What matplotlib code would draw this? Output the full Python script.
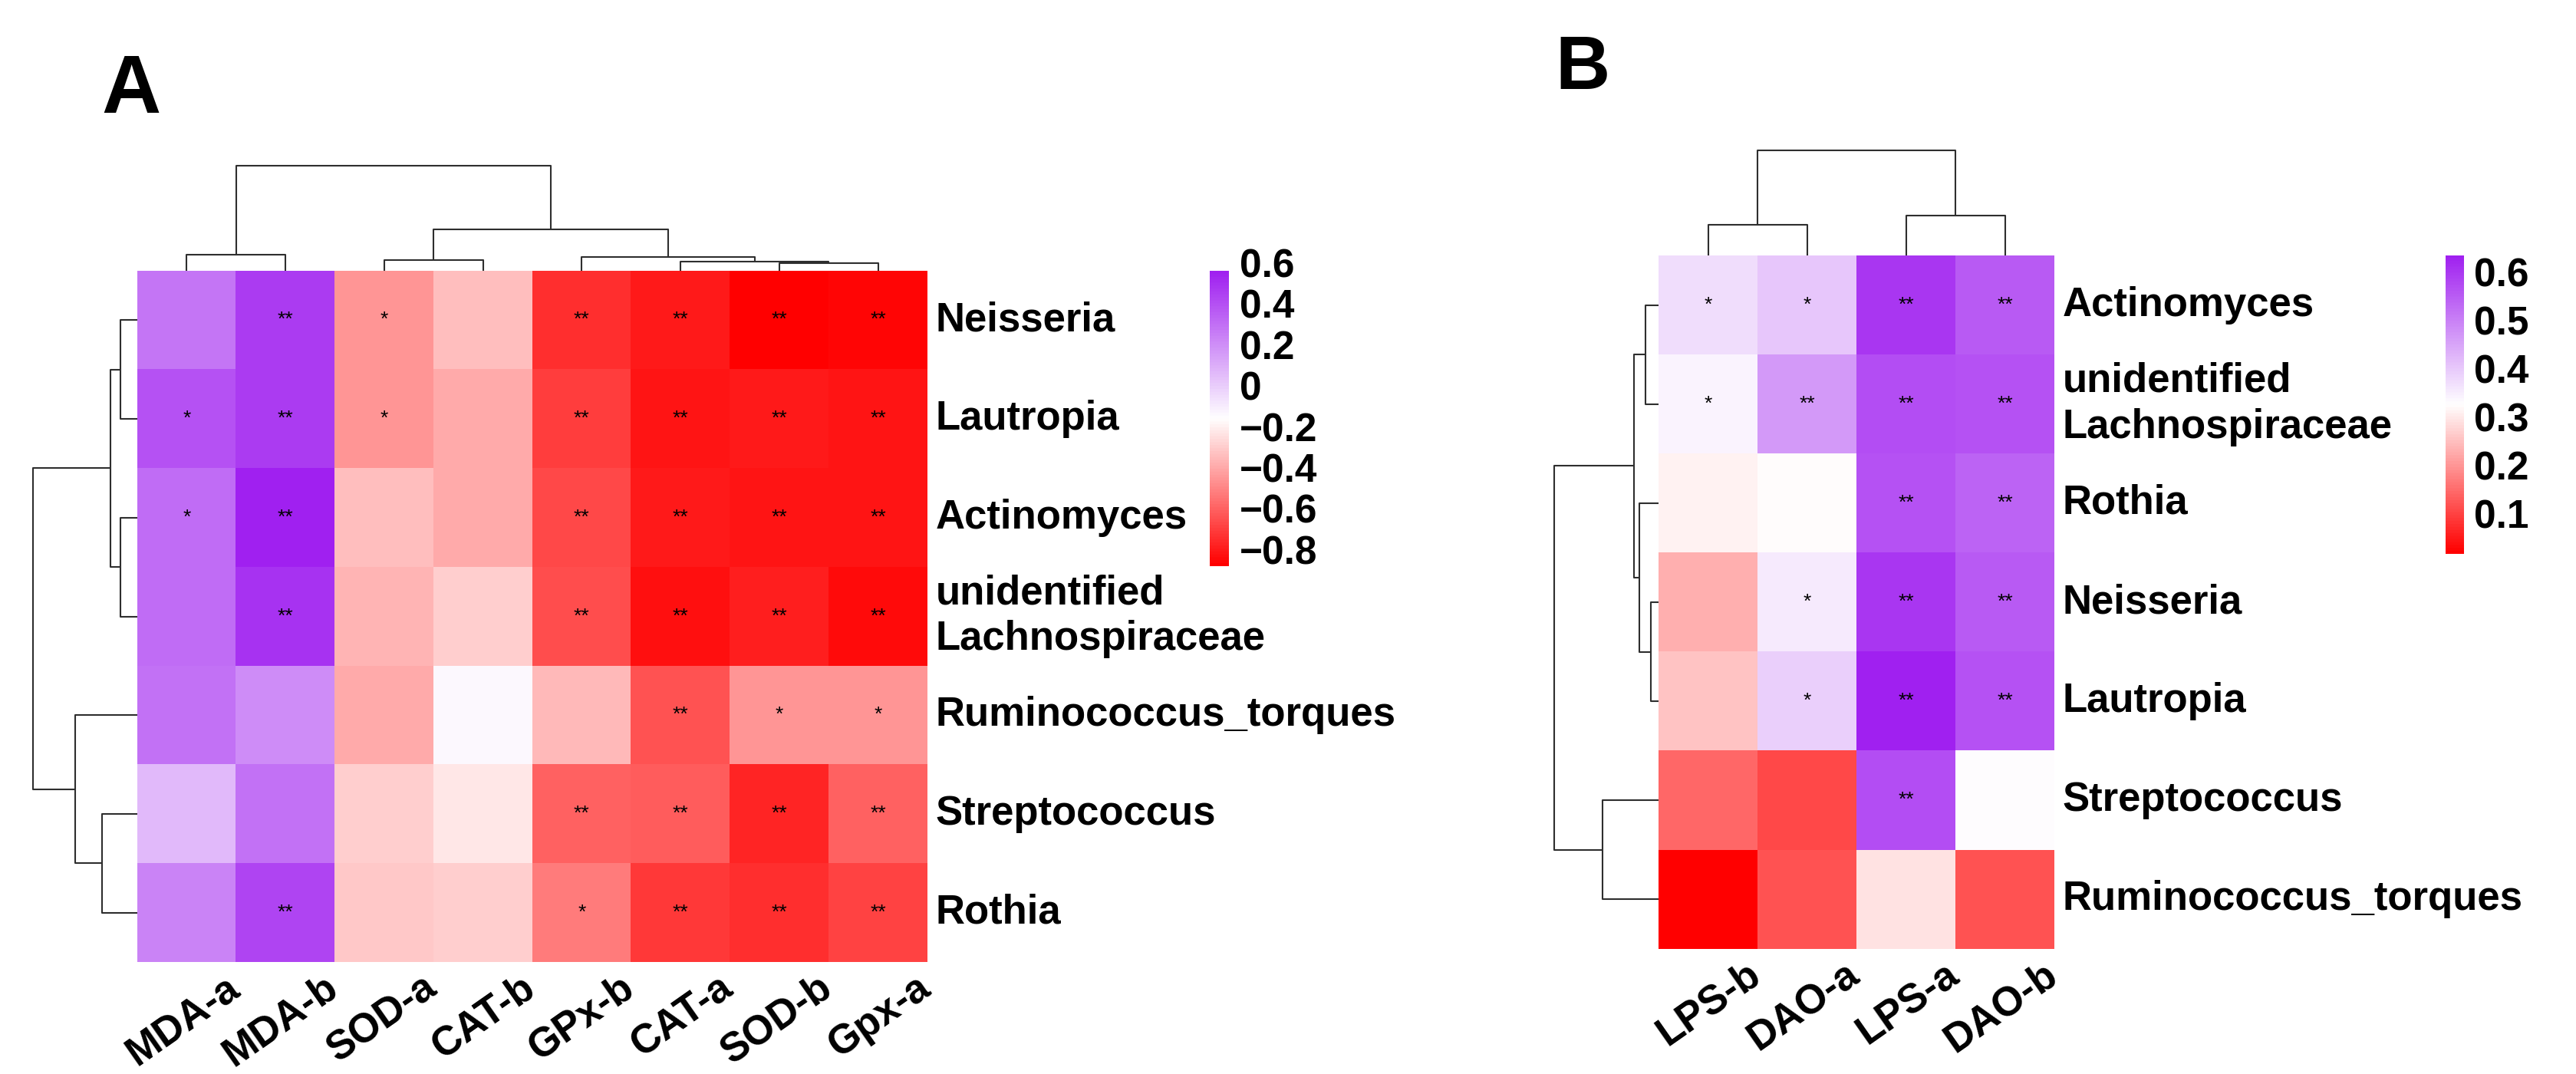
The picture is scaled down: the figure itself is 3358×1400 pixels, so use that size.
import numpy as np
import matplotlib
matplotlib.use('Agg')
import matplotlib.pyplot as plt
from matplotlib.colors import LinearSegmentedColormap

plt.rcParams['font.family'] = ['Liberation Sans', 'DejaVu Sans']
plt.rcParams['font.weight'] = 'bold'

# ── Panel A data ───────────────────────────────────────
cols_A = ['MDA-a', 'MDA-b', 'SOD-a', 'CAT-b', 'GPx-b', 'CAT-a', 'SOD-b', 'Gpx-a']
rows_A = ['Neisseria', 'Lautropia', 'Actinomyces', 'unidentified\nLachnospiraceae',
          'Ruminococcus_torques', 'Streptococcus', 'Rothia']
vals_A = [[0.30, 0.48, -0.44, -0.32, -0.73, -0.78, -0.86, -0.84],
          [0.41, 0.48, -0.44, -0.38, -0.68, -0.79, -0.78, -0.80],
          [0.33, 0.58, -0.32, -0.38, -0.65, -0.78, -0.80, -0.80],
          [0.33, 0.52, -0.35, -0.27, -0.63, -0.81, -0.76, -0.83],
          [0.31, 0.23, -0.38, -0.12, -0.34, -0.62, -0.44, -0.44],
          [0.09, 0.31, -0.28, -0.20, -0.58, -0.59, -0.75, -0.58],
          [0.26, 0.46, -0.29, -0.27, -0.51, -0.69, -0.73, -0.66]]
sig_A = [['', '**', '*', '', '**', '**', '**', '**'],
         ['*', '**', '*', '', '**', '**', '**', '**'],
         ['*', '**', '', '', '**', '**', '**', '**'],
         ['', '**', '', '', '**', '**', '**', '**'],
         ['', '', '', '', '', '**', '*', '*'],
         ['', '', '', '', '**', '**', '**', '**'],
         ['', '**', '', '', '*', '**', '**', '**']]
# linkage: (child, child, height); ids >= n are earlier merges
link_col_A = [(6, 7, 0.22), (5, 8, 0.26), (2, 3, 0.31), (4, 9, 0.40),
              (0, 1, 0.46), (10, 11, 1.19), (12, 13, 3.00)]
link_row_A = [(0, 1, 0.48), (2, 3, 0.49), (7, 8, 0.77), (5, 6, 1.01),
              (4, 10, 1.79), (9, 11, 3.00)]
ticks_A = [0.6, 0.4, 0.2, 0, -0.2, -0.4, -0.6, -0.8]

# ── Panel B data ───────────────────────────────────────
cols_B = ['LPS-b', 'DAO-a', 'LPS-a', 'DAO-b']
rows_B = ['Actinomyces', 'unidentified\nLachnospiraceae', 'Rothia', 'Neisseria',
          'Lautropia', 'Streptococcus', 'Ruminococcus_torques']
vals_B = [[0.38, 0.41, 0.61, 0.56],
          [0.35, 0.47, 0.58, 0.57],
          [0.32, 0.33, 0.57, 0.55],
          [0.24, 0.36, 0.61, 0.56],
          [0.26, 0.40, 0.643, 0.57],
          [0.15, 0.115, 0.58, 0.34],
          [0.025, 0.13, 0.30, 0.13]]
sig_B = [['*', '*', '**', '**'],
         ['*', '**', '**', '**'],
         ['', '', '**', '**'],
         ['', '*', '**', '**'],
         ['', '*', '**', '**'],
         ['', '', '**', ''],
         ['', '', '', '']]
link_col_B = [(0, 1, 0.88), (2, 3, 1.14), (4, 5, 3.00)]
link_row_B = [(3, 4, 0.23), (0, 1, 0.37), (2, 7, 0.55), (8, 9, 0.71),
              (5, 6, 1.61), (10, 11, 3.00)]
ticks_B = [0.6, 0.5, 0.4, 0.3, 0.2, 0.1]

# ── Style ──────────────────────────────────────────────
W, H = 3358, 1400
CMAP = LinearSegmentedColormap.from_list('rwp', ['#FF0000', '#FFFFFF', '#A020F0'], N=100)
TREE = '#2e2e2e'

fig = plt.figure(figsize=(W / 100, H / 100), dpi=100, facecolor='white')

def box(x0, y0, x1, y1):
    return [x0 / W, 1 - y1 / H, (x1 - x0) / W, (y1 - y0) / H]

def tree_coords(link, n):
    pos = {i: i + 0.5 for i in range(n)}
    hgt = {i: 0.0 for i in range(n)}
    segs = []
    for k, (a, b, h) in enumerate(link):
        segs.append(([pos[a], pos[a], pos[b], pos[b]], [hgt[a], h, h, hgt[b]]))
        pos[n + k] = (pos[a] + pos[b]) / 2
        hgt[n + k] = h
    return segs, max(h for _, _, h in link)

def draw_tree(ax, link, n, horizontal):
    segs, top = tree_coords(link, n)
    for p, h in segs:
        if horizontal:
            ax.plot(h, p, color=TREE, lw=1.5, clip_on=False, solid_capstyle='butt')
        else:
            ax.plot(p, h, color=TREE, lw=1.5, clip_on=False, solid_capstyle='butt')
    if horizontal:
        ax.set_xlim(top, 0); ax.set_ylim(n, 0)
    else:
        ax.set_xlim(0, n); ax.set_ylim(0, top)
    ax.axis('off')

def panel(vals, sig, rows, cols, lc, lr, ticks, hm, tree_w, cb, letter, lfs, lpos):
    data = np.array(vals)
    vmin, vmax = data.min(), data.max()
    nr, nc = data.shape
    x0, y0, x1, y1 = hm

    ax = fig.add_axes(box(x0, y0, x1, y1))
    ax.imshow(data, cmap=CMAP, vmin=vmin, vmax=vmax, aspect='auto',
              interpolation='nearest', extent=(0, nc, nr, 0))
    ax.set_xlim(0, nc); ax.set_ylim(nr, 0)
    ax.axis('off')
    for i in range(nr):
        for j in range(nc):
            if sig[i][j]:
                ax.text(j + 0.5, i + 0.5, sig[i][j], ha='center', va='center',
                        fontsize=19, fontweight='normal', color='black')
    for i, r in enumerate(rows):
        ax.text(nc + 0.08, i + 0.5, r, ha='left', va='center', fontsize=38,
                linespacing=1.25)
    for j, c in enumerate(cols):
        ax.text(j + 0.88, nr + 0.06, c, ha='right', va='top', fontsize=38,
                rotation=35, rotation_mode='anchor')

    axc = fig.add_axes(box(x0, y0 - 137, x1, y0))
    draw_tree(axc, lc, nc, horizontal=False)
    axr = fig.add_axes(box(x0 - tree_w, y0, x0, y1))
    draw_tree(axr, lr, nr, horizontal=True)

    # colour key
    axk = fig.add_axes(box(*cb))
    grad = np.linspace(vmax, vmin, 300)[:, None]
    axk.imshow(grad, cmap=CMAP, vmin=vmin, vmax=vmax, aspect='auto',
               extent=(0, 1, vmin, vmax), origin='upper')
    axk.set_xlim(0, 1); axk.set_ylim(vmin, vmax)
    axk.axis('off')
    for t in ticks:
        lab = f'{t:g}'.replace('-', '\u2212')
        axk.text(1.55, t, lab, ha='left', va='center', fontsize=37, clip_on=False,
                 transform=axk.transData)

    fig.text(lpos[0] / W, 1 - lpos[1] / H, letter, fontsize=lfs, fontweight='bold',
             ha='left', va='baseline')

panel(vals_A, sig_A, rows_A, cols_A, link_col_A, link_row_A, ticks_A,
      (179, 353, 1209, 1254), 136, (1577, 353, 1602, 738), 'A', 77, (132, 147))
panel(vals_B, sig_B, rows_B, cols_B, link_col_B, link_row_B, ticks_B,
      (2162, 333, 2678, 1237), 136, (3188, 333, 3212, 722), 'B', 71, (2027, 116))

fig.savefig('out.png', dpi=100, facecolor='white')
